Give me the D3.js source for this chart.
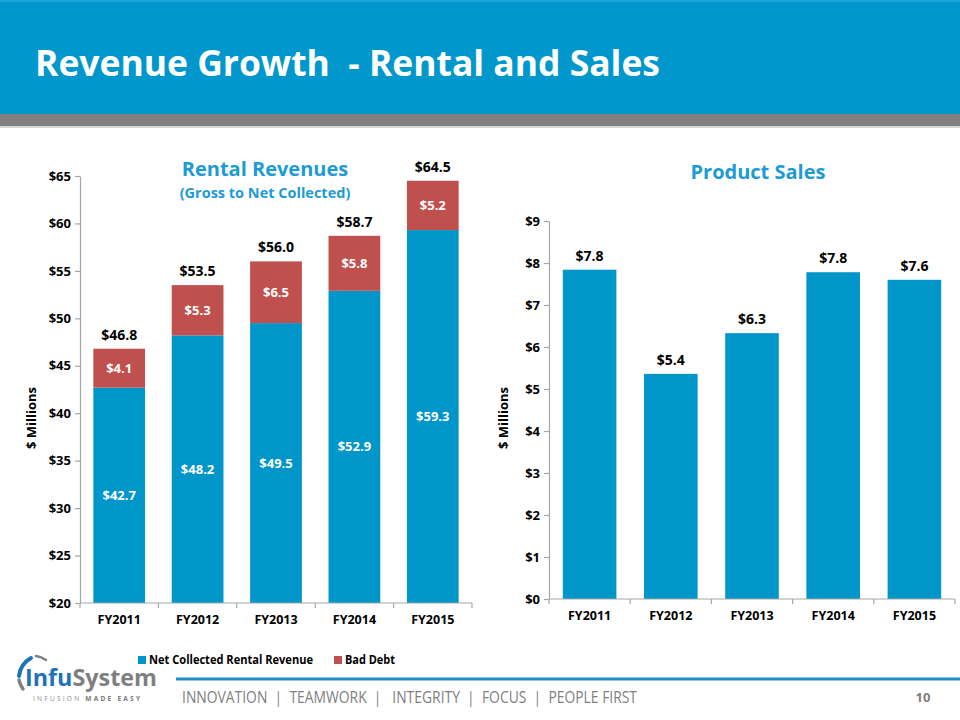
<!DOCTYPE html>
<html>
<head>
<meta charset="utf-8">
<script src="https://cdn.jsdelivr.net/npm/d3@7"></script>
<style>
  html, body { margin: 0; padding: 0; background: #fff; }
  svg { display: block; }
  text { font-family: "Open Sans", "Lato", "Liberation Sans", sans-serif; }
</style>
</head>
<body>
<svg id="chart" width="960" height="720"></svg>
<script>
// ---------- data ----------
const categories = ["FY2011", "FY2012", "FY2013", "FY2014", "FY2015"];
const netRental = [42.7, 48.2, 49.5, 52.9, 59.3];
const badDebt = [4.1, 5.3, 6.5, 5.8, 5.2];
const productSales = [7.84, 5.36, 6.33, 7.78, 7.6];
const rentalTicks = [20, 25, 30, 35, 40, 45, 50, 55, 60, 65];
const salesTicks = [0, 1, 2, 3, 4, 5, 6, 7, 8, 9];
const seriesNames = ["Net Collected Rental Revenue", "Bad Debt"];
const footerText = "INNOVATION  |  TEAMWORK  |   INTEGRITY  |  FOCUS  |  PEOPLE FIRST";

// ---------- styles ----------
const BLUE = "#0096c9";
const RED = "#c0504d";
const TITLE_BLUE = "#1c9bd4";
const AXIS = "#a6a6a6";
const fmt = v => "$" + v.toFixed(1);

const svg = d3.select("#chart");

// ---------- header ----------
svg.append("rect").attr("x", 0).attr("y", 0).attr("width", 960).attr("height", 114).attr("fill", "#0098cc");
svg.append("rect").attr("x", 0).attr("y", 0).attr("width", 960).attr("height", 2).attr("fill", "#1aa3d6");
svg.append("rect").attr("x", 0).attr("y", 114).attr("width", 960).attr("height", 12).attr("fill", "#808080");
svg.append("rect").attr("x", 0).attr("y", 126).attr("width", 960).attr("height", 2).attr("fill", "#d9d9d9");
svg.append("text")
  .attr("x", 35).attr("y", 76)
  .attr("fill", "#fff")
  .attr("font-size", 36).attr("font-weight", 700)
  .attr("textLength", 625).attr("lengthAdjust", "spacingAndGlyphs")
  .style("white-space", "pre")
  .text("Revenue Growth  - Rental and Sales");

// ---------- generic bar chart helper ----------
function drawAxes(g, x, y, ticks, xLabelY) {
  const [x0, x1] = x.range();
  const [yb, yt] = y.range();
  // y axis
  const ya = g.append("g").attr("transform", `translate(${x0},0)`)
    .call(d3.axisLeft(y).tickValues(ticks).tickSize(5).tickSizeOuter(0).tickPadding(4).tickFormat(d => "$" + d));
  ya.select(".domain").attr("stroke", AXIS).attr("stroke-width", 1.2);
  ya.selectAll(".tick line").attr("stroke", AXIS).attr("stroke-width", 1.2);
  ya.selectAll(".tick text").attr("fill", "#000").attr("font-size", 13).attr("font-weight", 700)
    .style("font-family", "'Open Sans', sans-serif");
  // x axis
  const xa = g.append("g").attr("transform", `translate(0,${yb})`)
    .call(d3.axisBottom(x).tickSize(0).tickPadding(0));
  xa.select(".domain").remove();
  xa.selectAll(".tick text").attr("fill", "#000").attr("font-size", 12.5).attr("font-weight", 700)
    .attr("y", xLabelY - yb).attr("dy", "0.35em");
  g.append("line").attr("x1", x0).attr("x2", x1).attr("y1", yb).attr("y2", yb)
    .attr("stroke", AXIS).attr("stroke-width", 1.2);
  const bounds = categories.map(c => x(c) - x.step() * x.paddingInner() / 2).concat([x1]);
  g.selectAll(".xt").data(bounds).join("line")
    .attr("x1", d => d).attr("x2", d => d).attr("y1", yb).attr("y2", yb + 5)
    .attr("stroke", AXIS).attr("stroke-width", 1.2);
}

// ---------- left: Rental Revenues ----------
const gL = svg.append("g");
const xL = d3.scaleBand().domain(categories).range([80, 472]).paddingInner(0.34).paddingOuter(0.17);
const yL = d3.scaleLinear().domain([20, 65]).range([603, 176]);

const rentalRows = categories.map((c, i) => ({ cat: c, net: netRental[i], bad: badDebt[i] }));
const stack = d3.stack().keys(["net", "bad"])(rentalRows);
const colors = { net: BLUE, bad: RED };

stack.forEach(layer => {
  gL.selectAll(".bar-" + layer.key).data(layer).join("rect")
    .attr("x", d => xL(d.data.cat))
    .attr("width", xL.bandwidth())
    .attr("y", d => yL(d[1]))
    .attr("height", d => yL(Math.max(d[0], 20)) - yL(d[1]))
    .attr("fill", colors[layer.key]);
  gL.selectAll(".lbl-" + layer.key).data(layer).join("text")
    .attr("x", d => xL(d.data.cat) + xL.bandwidth() / 2)
    .attr("y", d => (yL(Math.max(d[0], 20)) + yL(d[1])) / 2)
    .attr("dy", "0.35em")
    .attr("text-anchor", "middle")
    .attr("fill", "#fff").attr("font-size", 13).attr("font-weight", 700)
    .text(d => fmt(d[1] - d[0]));
});
gL.selectAll(".tot").data(rentalRows).join("text")
  .attr("x", d => xL(d.cat) + xL.bandwidth() / 2)
  .attr("y", d => yL(d.net + d.bad) - 14)
  .attr("dy", "0.35em")
  .attr("text-anchor", "middle")
  .attr("fill", "#000").attr("font-size", 14).attr("font-weight", 700)
  .text(d => fmt(d.net + d.bad));

drawAxes(gL, xL, yL, rentalTicks, 620);

gL.append("text").attr("transform", "translate(31,418) rotate(-90)")
  .attr("text-anchor", "middle").attr("dy", "0.35em")
  .attr("font-size", 13).attr("font-weight", 700).attr("fill", "#000").text("$ Millions");
gL.append("text").attr("x", 265).attr("y", 169).attr("dy", "0.35em").attr("text-anchor", "middle")
  .attr("font-size", 20).attr("font-weight", 700).attr("fill", TITLE_BLUE).text("Rental Revenues");
gL.append("text").attr("x", 265).attr("y", 193).attr("dy", "0.35em").attr("text-anchor", "middle")
  .attr("font-size", 14.5).attr("font-weight", 700).attr("fill", TITLE_BLUE).text("(Gross to Net Collected)");

// legend
const legX = [138, 334];
const legG = gL.selectAll(".leg").data(seriesNames).join("g")
  .attr("transform", (d, i) => `translate(${legX[i]},660)`);
legG.append("rect").attr("x", 0).attr("y", -4).attr("width", 8).attr("height", 8)
  .attr("fill", (d, i) => i === 0 ? BLUE : RED);
legG.append("text").attr("x", 11).attr("dy", "0.35em")
  .attr("font-size", 12).attr("font-weight", 700).attr("fill", "#000")
  .attr("textLength", (d, i) => i === 0 ? 164 : 50).attr("lengthAdjust", "spacingAndGlyphs")
  .text(d => d);

// ---------- right: Product Sales ----------
const gR = svg.append("g");
const xR = d3.scaleBand().domain(categories).range([549, 955]).paddingInner(0.34).paddingOuter(0.17);
const yR = d3.scaleLinear().domain([0, 9]).range([599, 221]);

gR.selectAll(".pbar").data(productSales).join("rect")
  .attr("x", (d, i) => xR(categories[i]))
  .attr("width", xR.bandwidth())
  .attr("y", d => yR(d))
  .attr("height", d => yR(0) - yR(d))
  .attr("fill", BLUE);
gR.selectAll(".plbl").data(productSales).join("text")
  .attr("x", (d, i) => xR(categories[i]) + xR.bandwidth() / 2)
  .attr("y", d => yR(d) - 14)
  .attr("dy", "0.35em")
  .attr("text-anchor", "middle")
  .attr("fill", "#000").attr("font-size", 14).attr("font-weight", 700)
  .text(d => fmt(d));

drawAxes(gR, xR, yR, salesTicks, 616);

gR.append("text").attr("transform", "translate(503,418) rotate(-90)")
  .attr("text-anchor", "middle").attr("dy", "0.35em")
  .attr("font-size", 13).attr("font-weight", 700).attr("fill", "#000").text("$ Millions");
gR.append("text").attr("x", 758).attr("y", 172).attr("dy", "0.35em").attr("text-anchor", "middle")
  .attr("font-size", 20).attr("font-weight", 700).attr("fill", TITLE_BLUE).text("Product Sales");

// ---------- footer ----------
svg.append("line").attr("x1", 176).attr("x2", 960).attr("y1", 679).attr("y2", 679)
  .attr("stroke", "#1b8fc6").attr("stroke-width", 3);
svg.append("text").attr("x", 182).attr("y", 698).attr("dy", "0.35em")
  .attr("font-size", 15.5).attr("fill", "#7f7f7f")
  .attr("textLength", 455).attr("lengthAdjust", "spacingAndGlyphs")
  .style("white-space", "pre")
  .text(footerText);
svg.append("text").attr("x", 923).attr("y", 697).attr("dy", "0.35em").attr("text-anchor", "middle")
  .attr("font-size", 13).attr("font-weight", 700).attr("fill", "#7f7f7f").text("10");

// logo
const logo = svg.append("g");
logo.append("path").attr("d", "M 31 658 A 24 24 0 0 0 19 676")
  .attr("fill", "none").attr("stroke", "#1d72b8").attr("stroke-width", 4).attr("stroke-linecap", "round");
logo.append("path").attr("d", "M 19 680 A 24 24 0 0 0 23 689")
  .attr("fill", "none").attr("stroke", "#7f7f7f").attr("stroke-width", 3.5).attr("stroke-linecap", "round");
logo.append("path").attr("d", "M 36 656 A 20 20 0 0 1 46 660")
  .attr("fill", "none").attr("stroke", "#7f7f7f").attr("stroke-width", 2.5).attr("stroke-linecap", "round");
const lt = logo.append("text").attr("x", 25).attr("y", 686)
  .attr("font-size", 23).attr("font-weight", 700)
  .attr("textLength", 132).attr("lengthAdjust", "spacingAndGlyphs");
lt.append("tspan").attr("fill", "#1d72b8").text("Infu");
lt.append("tspan").attr("fill", "#7f7f7f").text("System");
const st = logo.append("text").attr("x", 33).attr("y", 699).attr("dy", "0.35em")
  .attr("font-size", 6.5).attr("fill", "#8c8c8c")
  .attr("textLength", 107).attr("lengthAdjust", "spacing");
st.append("tspan").text("INFUSION ");
st.append("tspan").attr("font-weight", 700).attr("fill", "#7a7a7a").text("MADE EASY");
</script>
</body>
</html>
